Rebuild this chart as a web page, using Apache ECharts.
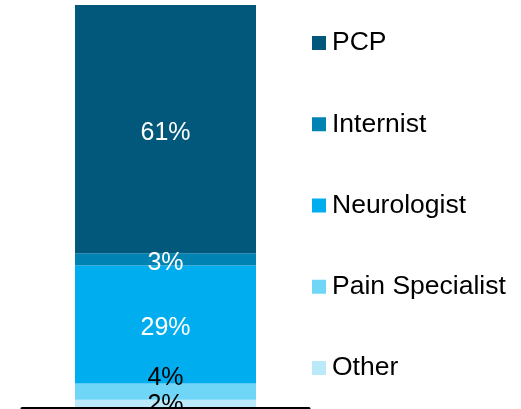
<!DOCTYPE html>
<html>
<head>
<meta charset="utf-8">
<script src="https://cdn.jsdelivr.net/npm/echarts@6/dist/echarts.min.js"></script>
<style>
  html, body { margin: 0; padding: 0; background: #ffffff; }
  #chart { width: 521px; height: 409px; }
</style>
</head>
<body>
<div id="chart"></div>
<script>
// Share of diagnoses by specialty, stacked bottom to top
const categories = ['Total'];
const specialties = ['Other', 'Pain Specialist', 'Neurologist', 'Internist', 'PCP'];
const shares = [2, 4, 29, 3, 61];
const legendOrder = ['PCP', 'Internist', 'Neurologist', 'Pain Specialist', 'Other'];
const colors = ['#bae9f9', '#6fd6f8', '#00adef', '#0083b3', '#01587a'];
const labelColors = ['#000000', '#000000', '#ffffff', '#ffffff', '#ffffff'];
const labelOffsets = [[0, 1], [0, -14], [0, 4], [0, 4], [0, 4]];

const total = shares.reduce((a, b) => a + b, 0);
const font = '"Liberation Sans", Arial, sans-serif';

const chart = echarts.init(document.getElementById('chart'));
chart.setOption({
  animation: false,
  grid: { left: 22, right: 212, top: 5, bottom: 1 },
  legend: {
    orient: 'vertical',
    left: 312,
    top: 27,
    padding: 0,
    itemWidth: 14,
    itemHeight: 14,
    itemGap: 49.25,
    icon: 'rect',
    data: legendOrder,
    textStyle: { fontFamily: font, fontSize: 26.5, color: '#000000', lineHeight: 28, padding: [4, 0, 0, 1] }
  },
  xAxis: {
    type: 'category',
    data: categories,
    z: 10,
    axisLine: { lineStyle: { color: '#000000', width: 3 } },
    axisTick: { show: false },
    axisLabel: { show: false }
  },
  yAxis: {
    type: 'value',
    min: 0,
    max: total,
    show: false,
    splitLine: { show: false }
  },
  series: specialties.map((name, i) => ({
    name: name,
    type: 'bar',
    stack: 'share',
    barWidth: 181,
    itemStyle: { color: colors[i] },
    label: {
      show: true,
      position: 'inside',
      offset: labelOffsets[i],
      formatter: p => p.value + '%',
      fontFamily: font,
      fontSize: 25,
      color: labelColors[i]
    },
    data: [shares[i]]
  }))
});
</script>
</body>
</html>
